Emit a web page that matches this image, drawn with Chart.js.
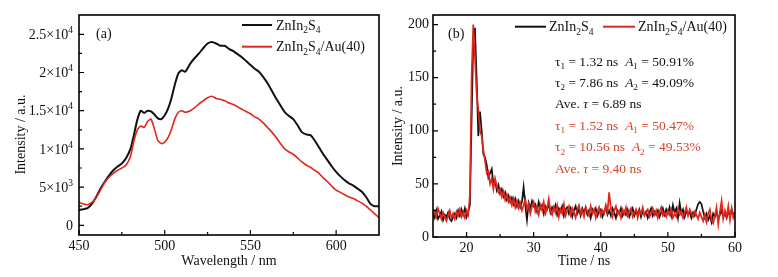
<!DOCTYPE html>
<html>
<head>
<meta charset="utf-8">
<script src="https://cdn.jsdelivr.net/npm/chart.js@4.4.1/dist/chart.umd.min.js"></script>
<style>
  html, body { margin: 0; padding: 0; background: #fff; }
  #wrap { position: relative; width: 778px; height: 277px; }
  canvas { position: absolute; top: 0; }
  #chartA { left: 0; }
  #chartB { left: 390px; }
</style>
</head>
<body>
<div id="wrap">
  <canvas id="chartA" width="390" height="277"></canvas>
  <canvas id="chartB" width="388" height="277"></canvas>
</div>
<script>
// ---- panel (a): PL spectra ----
const wavelengthNm = [450,452.5,455,457.5,460,462.5,465,467.5,470,472.5,475,477.5,480,482,484,486,488,490,492,494,496,498,500,502,504,506,508,510,512,515,517.5,520,522.5,525,527.5,530,532.5,535,537.5,540,542.5,545,547.5,550,552.5,555,557.5,560,562.5,565,567.5,570,572.5,575,577.5,580,582.5,585,587.5,590,592.5,595,597.5,600,602.5,605,607.5,610,612.5,615,617.5,620,622.5,625];
const plZnIn2S4 = [2000,2100,2250,2800,3700,4800,5700,6500,7200,7700,8100,8800,10000,11800,13800,15000,14700,15000,14900,14500,14000,13900,14400,15300,16700,18500,19900,20300,20100,21200,21900,22500,23200,23800,24000,23800,23500,23500,23100,22800,22400,22000,21500,21000,20500,20100,19400,18600,17600,16600,15700,14800,14300,13900,13100,12200,11900,11800,11100,10200,9300,8500,7700,7000,6400,5900,5500,5200,4800,4400,3700,2800,2500,2500];
const plZnIn2S4Au = [3000,2800,2700,3000,3600,4600,5600,6300,6800,7200,7500,7900,9000,11000,12500,13000,12800,13600,13900,12600,11100,10700,10900,11500,12600,14000,14800,15000,14800,15000,15400,15900,16300,16700,16900,16600,16500,16300,16000,15800,15500,15200,14900,14600,14200,13900,13400,12800,12200,11500,10700,10000,9600,9300,8800,8300,7900,7600,7200,6800,6200,5700,5100,4600,4300,4000,3700,3500,3200,2900,2500,2000,1500,1000];
const xTicksA = [450, 500, 550, 600];
const xMinorA = [475, 525, 575];
const yTicksA = [0, 5000, 10000, 15000, 20000, 25000];
const yMinorA = [2500, 7500, 12500, 17500, 22500];
const yTickLabelsA = [
  [['0', '']],
  [['5×10', ''], ['3', 'sup']],
  [['1×10', ''], ['4', 'sup']],
  [['1.5×10', ''], ['4', 'sup']],
  [['2×10', ''], ['4', 'sup']],
  [['2.5×10', ''], ['4', 'sup']]
];

// ---- panel (b): decay curves, 15 ns to 60 ns every 0.25 ns ----
const decayStart = 15, decayStep = 0.25;
const decayZnIn2S4 = [
  22,18,25,17,20,24,16,21,19,23,17,15,19,22,18,25,20,26,21,27,
  19,24,30,110,185,197,150,95,118,100,78,75,68,56,60,64,50,53,44,49,
  41,45,38,42,35,39,33,37,31,36,29,34,28,33,47,30,16,32,27,34,
  29,31,24,33,27,30,22,29,26,31,23,28,25,30,21,27,24,29,20,26,
  28,22,27,19,25,29,22,26,20,27,23,28,21,25,18,26,23,27,20,24,
  26,19,24,28,21,25,20,27,23,18,25,22,27,20,24,21,26,19,23,27,
  20,24,22,26,19,25,21,24,18,23,27,20,24,21,25,19,23,27,21,26,
  22,28,20,30,23,27,18,32,22,26,19,25,21,24,18,23,20,26,31,33,
  31,24,18,22,16,20,14,22,19,24,17,21,25,19,23,18,24,20,26,21,
  23];
const decayZnIn2S4Au = [
  20,24,19,27,22,17,23,19,15,20,25,18,22,17,24,20,26,19,23,18,
  25,21,40,150,200,170,135,120,100,95,82,72,60,62,50,55,45,55,48,42,
  45,38,43,35,40,33,37,30,36,28,34,27,32,25,30,36,26,31,22,29,
  33,24,28,21,30,25,33,22,27,36,24,21,28,23,30,19,26,22,31,20,
  25,29,21,27,23,18,26,30,22,25,19,28,24,20,29,22,26,18,24,28,
  20,25,22,30,24,42,27,19,25,29,21,24,18,26,22,28,20,24,27,19,
  23,26,18,25,22,28,20,23,26,19,22,27,21,25,18,24,28,20,23,19,
  25,21,26,18,22,19,27,21,24,18,23,28,20,26,22,19,24,21,17,23,
  19,15,21,14,22,26,16,13,20,28,12,24,34,17,25,19,29,16,27,18,
  22];
const xTicksB = [20, 30, 40, 50, 60];
const xMinorB = [25, 35, 45, 55];
const yTicksB = [0, 50, 100, 150, 200];
const yMinorB = [25, 75, 125, 175];

const seriesNames = [
  [['ZnIn', ''], ['2', 'sub'], ['S', ''], ['4', 'sub']],
  [['ZnIn', ''], ['2', 'sub'], ['S', ''], ['4', 'sub'], ['/Au(40)', '']]
];
const fitLines = [
  [['τ', ''], ['1', 'sub'], [' = 1.32 ns  ', ''], ['A', 'i'], ['1', 'sub'], [' = 50.91%', '']],
  [['τ', ''], ['2', 'sub'], [' = 7.86 ns  ', ''], ['A', 'i'], ['2', 'sub'], [' = 49.09%', '']],
  [['Ave. ', ''], ['τ', 'i'], [' = 6.89 ns', '']],
  [['τ', ''], ['1', 'sub'], [' = 1.52 ns  ', ''], ['A', 'i'], ['1', 'sub'], [' = 50.47%', '']],
  [['τ', ''], ['2', 'sub'], [' = 10.56 ns  ', ''], ['A', 'i'], ['2', 'sub'], [' = 49.53%', '']],
  [['Ave. ', ''], ['τ', 'i'], [' = 9.40 ns', '']]
];

const BLACK = '#111111';
const RED = '#e3261b';
const RED_TEXT = '#d9412c';
const SERIF = '"Liberation Serif", "Times New Roman", serif';

function partFont(kind, size) {
  const s = (kind === 'sub' || kind === 'sup') ? size * 0.68 : size;
  return (kind === 'i' ? 'italic ' : '') + s + 'px ' + SERIF;
}
function richWidth(ctx, parts, size) {
  let w = 0;
  parts.forEach(([t, k]) => { ctx.font = partFont(k, size); w += ctx.measureText(t).width; });
  return w;
}
// y is the text baseline
function drawRich(ctx, parts, x, y, size, color, align) {
  ctx.save();
  ctx.fillStyle = color;
  ctx.textBaseline = 'alphabetic';
  ctx.textAlign = 'left';
  let cx = align === 'right' ? x - richWidth(ctx, parts, size) : x;
  parts.forEach(([t, k]) => {
    ctx.font = partFont(k, size);
    let dy = 0;
    if (k === 'sub') dy = size * 0.25;
    if (k === 'sup') dy = -size * 0.42;
    ctx.fillText(t, cx, y + dy);
    cx += ctx.measureText(t).width;
  });
  ctx.restore();
}

function drawFrame(chart, xMaj, xMin, yMaj, yMin) {
  const { ctx, chartArea: a, scales: { x, y } } = chart;
  ctx.save();
  ctx.strokeStyle = '#000';
  ctx.lineWidth = 1.6;
  ctx.strokeRect(a.left, a.top, a.right - a.left, a.bottom - a.top);
  ctx.lineWidth = 1.2;
  ctx.beginPath();
  xMaj.forEach(v => { const p = x.getPixelForValue(v); ctx.moveTo(p, a.bottom); ctx.lineTo(p, a.bottom - 5); });
  xMin.forEach(v => { const p = x.getPixelForValue(v); ctx.moveTo(p, a.bottom); ctx.lineTo(p, a.bottom - 3); });
  yMaj.forEach(v => { const p = y.getPixelForValue(v); ctx.moveTo(a.left, p); ctx.lineTo(a.left + 5, p); });
  yMin.forEach(v => { const p = y.getPixelForValue(v); ctx.moveTo(a.left, p); ctx.lineTo(a.left + 3, p); });
  ctx.stroke();
  ctx.restore();
}

function legendLine(ctx, x1, x2, y, color) {
  ctx.save();
  ctx.strokeStyle = color;
  ctx.lineWidth = 2;
  ctx.beginPath(); ctx.moveTo(x1, y); ctx.lineTo(x2, y); ctx.stroke();
  ctx.restore();
}

const tickFont = { family: SERIF, size: 14 };
const titleFont = { family: SERIF, size: 14 };

const decorA = {
  id: 'decorA',
  afterDraw(chart) {
    const ctx = chart.ctx;
    drawFrame(chart, xTicksA, xMinorA, yTicksA, yMinorA);
    const y = chart.scales.y;
    yTicksA.forEach((v, i) => {
      drawRich(ctx, yTickLabelsA[i], 73, y.getPixelForValue(v) + 4.6, 14, BLACK, 'right');
    });
    // y title, sits a bit below the plot's middle in the original
    ctx.save();
    ctx.translate(21.5, 134.5);
    ctx.rotate(-Math.PI / 2);
    ctx.font = '14px ' + SERIF;
    ctx.fillStyle = BLACK;
    ctx.textAlign = 'center';
    ctx.textBaseline = 'middle';
    ctx.fillText('Intensity / a.u.', 0, 0);
    ctx.restore();
    drawRich(ctx, [['(a)', '']], 96, 37.6, 14, BLACK);
    legendLine(ctx, 242, 272, 25, BLACK);
    drawRich(ctx, seriesNames[0], 276, 29.6, 14, BLACK);
    legendLine(ctx, 242, 272, 46.7, RED);
    drawRich(ctx, seriesNames[1], 276, 51.3, 14, BLACK);
  }
};

const decorB = {
  id: 'decorB',
  afterDraw(chart) {
    const ctx = chart.ctx;
    drawFrame(chart, xTicksB, xMinorB, yTicksB, yMinorB);
    drawRich(ctx, [['(b)', '']], 58, 37.6, 14, BLACK);
    legendLine(ctx, 125, 156, 26.7, BLACK);
    drawRich(ctx, seriesNames[0], 159, 31.3, 14, BLACK);
    legendLine(ctx, 213, 245, 26.7, RED);
    drawRich(ctx, seriesNames[1], 248, 31.3, 14, BLACK);
    const rows = [61, 82, 103.3, 125, 146.7, 168.3];
    fitLines.forEach((parts, i) => {
      drawRich(ctx, parts, 165, rows[i] + 4.6, 13.5, i < 3 ? BLACK : RED_TEXT);
    });
  }
};

new Chart(document.getElementById('chartA'), {
  type: 'line',
  data: {
    datasets: [
      { data: wavelengthNm.map((w, i) => ({ x: w, y: plZnIn2S4Au[i] })), borderColor: RED, borderWidth: 1.6 },
      { data: wavelengthNm.map((w, i) => ({ x: w, y: plZnIn2S4[i] })), borderColor: BLACK, borderWidth: 2 }
    ]
  },
  options: {
    responsive: false,
    animation: false,
    elements: { point: { radius: 0 }, line: { tension: 0.2 } },
    layout: { padding: { left: 0, right: 11, top: 15, bottom: 0 } },
    plugins: { legend: { display: false }, tooltip: { enabled: false } },
    scales: {
      x: {
        type: 'linear', min: 450, max: 625,
        afterBuildTicks: s => { s.ticks = xTicksA.map(v => ({ value: v })); },
        afterFit: s => { s.height = 42; },
        grid: { display: false, drawTicks: false },
        border: { display: false },
        ticks: { font: tickFont, color: BLACK, padding: 3, maxRotation: 0 },
        title: { display: true, text: 'Wavelength / nm', font: titleFont, color: BLACK, padding: { top: 0, bottom: 7 } }
      },
      y: {
        min: -1270, max: 27530,
        afterBuildTicks: s => { s.ticks = yTicksA.map(v => ({ value: v })); },
        afterFit: s => { s.width = 79; },
        grid: { display: false, drawTicks: false },
        border: { display: false },
        ticks: { display: false }
      }
    }
  },
  plugins: [decorA]
});

const timeNs = decayZnIn2S4.map((_, i) => decayStart + decayStep * i);

new Chart(document.getElementById('chartB'), {
  type: 'line',
  data: {
    datasets: [
      { data: timeNs.map((t, i) => ({ x: t, y: decayZnIn2S4Au[i] })), borderColor: RED, borderWidth: 1.7 },
      { data: timeNs.map((t, i) => ({ x: t, y: decayZnIn2S4[i] })), borderColor: BLACK, borderWidth: 1.7 }
    ]
  },
  options: {
    responsive: false,
    animation: false,
    elements: { point: { radius: 0 }, line: { tension: 0 } },
    layout: { padding: { left: 0, right: 43, top: 15, bottom: 0 } },
    plugins: { legend: { display: false }, tooltip: { enabled: false } },
    scales: {
      x: {
        type: 'linear', min: 15, max: 60,
        afterBuildTicks: s => { s.ticks = xTicksB.map(v => ({ value: v })); },
        afterFit: s => { s.height = 40; },
        grid: { display: false, drawTicks: false },
        border: { display: false },
        ticks: { font: tickFont, color: BLACK, padding: 3, maxRotation: 0 },
        title: { display: true, text: 'Time / ns', font: titleFont, color: BLACK, padding: { top: 0, bottom: 7 } }
      },
      y: {
        min: 0, max: 209,
        afterBuildTicks: s => { s.ticks = yTicksB.map(v => ({ value: v })); },
        afterFit: s => { s.width = 43; },
        grid: { display: false, drawTicks: false },
        border: { display: false },
        ticks: { font: tickFont, color: BLACK, padding: 4 },
        title: { display: true, text: 'Intensity / a.u.', font: titleFont, color: BLACK, padding: { top: 0, bottom: 0 } }
      }
    }
  },
  plugins: [decorB]
});
</script>
</body>
</html>
